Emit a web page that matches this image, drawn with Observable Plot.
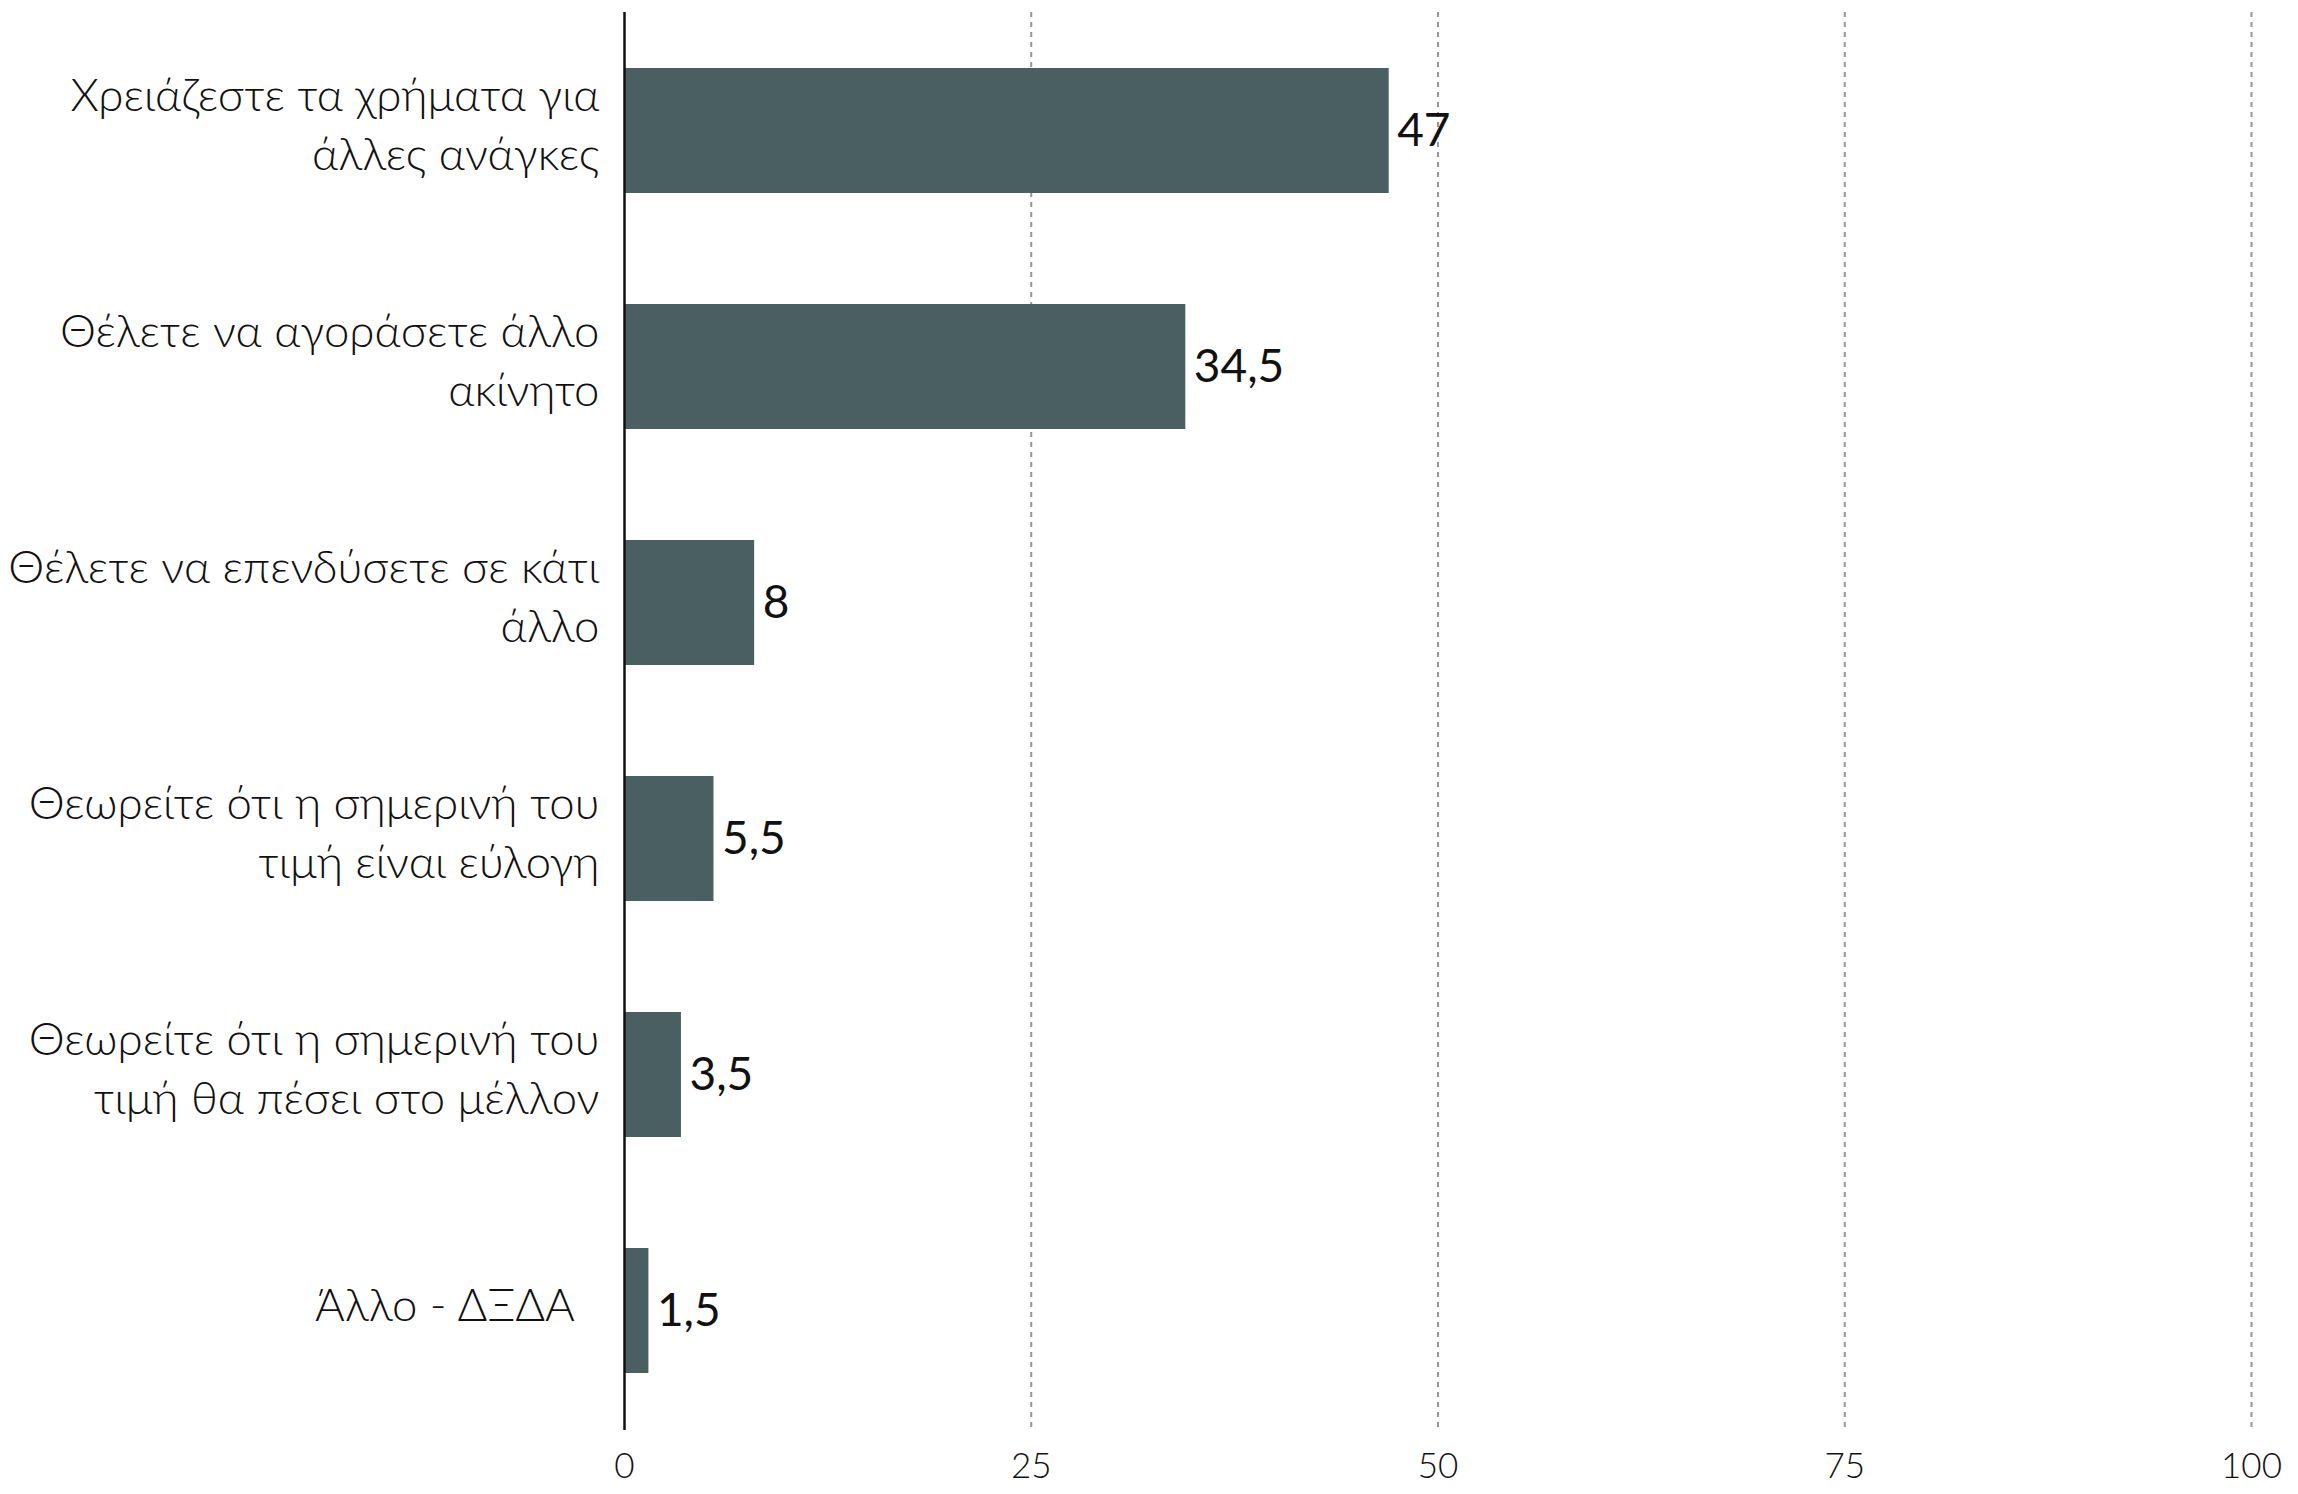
<!DOCTYPE html>
<html>
<head>
<meta charset="utf-8">
<script src="https://cdn.jsdelivr.net/npm/d3@7"></script>
<script src="https://cdn.jsdelivr.net/npm/@observablehq/plot@0.6"></script>
<style>
  html, body { margin: 0; padding: 0; background: #fff; }
  #chart svg { display: block; }
</style>
</head>
<body>
<div id="chart"></div>
<script>
const categories = [
  "Χρειάζεστε τα χρήματα για\nάλλες ανάγκες",
  "Θέλετε να αγοράσετε άλλο\nακίνητο",
  "Θέλετε να επενδύσετε σε κάτι\nάλλο",
  "Θεωρείτε ότι η σημερινή του\nτιμή είναι εύλογη",
  "Θεωρείτε ότι η σημερινή του\nτιμή θα πέσει στο μέλλον",
  "Άλλο - ΔΞΔΑ\u00a0\u00a0"
];
const values = [47, 34.5, 8, 5.5, 3.5, 1.5];
const xTicks = [0, 25, 50, 75, 100];
const gridTicks = [25, 50, 75, 100];

const data = categories.map((c, i) => ({category: c, value: values[i]}));
const fmt = v => String(v).replace(".", ",");

const chart = Plot.plot({
  width: 2298,
  height: 1494,
  marginLeft: 624,
  marginRight: 47,
  marginTop: 12,
  marginBottom: 64,
  style: {fontFamily: "Lato, 'Open Sans', sans-serif", background: "#fff", color: "#111"},
  x: {domain: [0, 100], ticks: xTicks, label: null},
  y: {domain: categories, paddingInner: 0.47, paddingOuter: 0.235, axis: null},
  marks: [
    Plot.ruleX(gridTicks, {stroke: "#959595", strokeWidth: 2, strokeDasharray: "5,5"}),
    Plot.barX(data, {x: "value", y: "category", fill: "#4a5f61"}),
    Plot.ruleX([0], {stroke: "#111", strokeWidth: 2.5}),
    Plot.text(data, {
      x: "value", y: "category", text: d => fmt(d.value),
      textAnchor: "start", dx: 8, fontSize: 46, fill: "#111", fontWeight: 400
    }),
    Plot.text(data, {
      x: 0, y: "category", text: "category",
      textAnchor: "end", dx: -25, dy: -9, fontSize: 45.5, lineHeight: 1.29, fill: "#111", fontWeight: 300
    }),
    Plot.axisX({
      ticks: xTicks, tickSize: 0, tickPadding: 23, fontSize: 35, fontWeight: 300,
      fill: "#111", tickFormat: d => String(d), label: null
    })
  ]
});
document.getElementById("chart").appendChild(chart);
</script>
</body>
</html>
